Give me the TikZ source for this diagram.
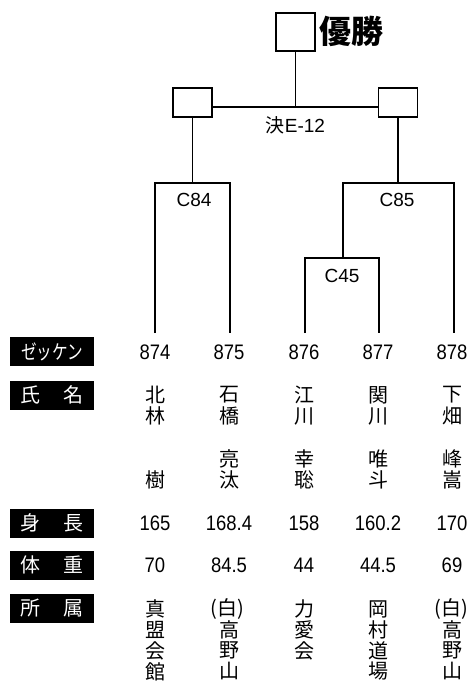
\documentclass[tikz,border=0pt]{standalone}
\usepackage{fontspec}
\setmainfont{Liberation Sans}
\newfontfamily\cjk{Noto Sans CJK JP}
\newfontfamily\cjkcond[FakeStretch=0.78]{Noto Sans CJK JP}
\newfontfamily\numcond[FakeStretch=0.88]{Liberation Sans}
\begin{document}
\begin{tikzpicture}[x=1pt,y=-1pt,line width=1.4pt,
  box/.style={draw,inner sep=0,minimum width=39pt},
  lab/.style={fill=black,text=white,minimum width=84pt,minimum height=29pt,inner sep=0,
    font=\cjk\fontsize{20}{20}\selectfont},
  cj/.style={font=\cjk\fontsize{20}{20}\selectfont,inner sep=0},
  num/.style={font=\numcond\fontsize{21}{21}\selectfont,inner sep=0},
  cl/.style={font=\fontsize{19}{19}\selectfont,inner sep=0}]
\useasboundingbox (0,0) rectangle (472,681);
% bracket boxes
\node[box,minimum height=38pt] (win) at (295.5,32) {};
\node[anchor=west,inner sep=0,font=\cjk\bfseries\fontsize{32}{32}\selectfont] (wint) at (319,31) {優勝};
\node[box,minimum height=29pt] (sL) at (192.5,102.5) {};
\node[box,minimum height=29pt] (sR) at (398,102.5) {};
\coordinate (j) at (295.5,107);
\draw (win.south) -- (j);
\draw (sL.east |- j) -- (sR.west |- j);
\node[cl] (fin) at (295.5,125) {{\cjk 決}E-12};
% legs
\coordinate (t1) at (155,333);
\coordinate (t2) at (230,333);
\coordinate (t3) at (305,333);
\coordinate (t4) at (379,333);
\coordinate (t5) at (454,333);
\coordinate (m84) at (192.5,183);
\coordinate (m85) at (398,183);
\coordinate (m45) at (343,258);
\draw (sL.south) -- (m84);
\draw (sR.south) -- (m85);
\draw (t1) |- (m84) -| (t2);
\draw (m45) |- (m85) -| (t5);
\draw (t3) |- (m45) -| (t4);
\node[cl] (c84) at (194,200) {C84};
\node[cl] (c85) at (397,200) {C85};
\node[cl] (c45) at (342,276) {C45};
% row labels
\node[lab] (l1) at (52,351.5) {\cjkcond ゼッケン};
\node[lab] (l2) at (52,395) {氏\hspace{1.2em}名};
\node[lab] (l3) at (52,523) {身\hspace{1.2em}長};
\node[lab] (l4) at (52,565) {体\hspace{1.2em}重};
\node[lab] (l5) at (52,608) {所\hspace{1.2em}属};
% numbers
\node[num] (n1) at (155,352.5) {874};
\node[num] (n2) at (229,352.5) {875};
\node[num] (n3) at (304,352.5) {876};
\node[num] (n4) at (378,352.5) {877};
\node[num] (n5) at (452,352.5) {878};
% names
\node[cj] (f1a) at (155,395) {北};
\node[cj] (f1b) at (155,416) {林};
\node[cj] (g1b) at (155,480) {樹};
\node[cj] (f2a) at (229,395) {石};
\node[cj] (f2b) at (229,416) {橋};
\node[cj] (g2a) at (229,459) {亮};
\node[cj] (g2b) at (229,480) {汰};
\node[cj] (f3a) at (304,395) {江};
\node[cj] (f3b) at (304,416) {川};
\node[cj] (g3a) at (304,459) {幸};
\node[cj] (g3b) at (304,480) {聡};
\node[cj] (f4a) at (378,395) {関};
\node[cj] (f4b) at (378,416) {川};
\node[cj] (g4a) at (378,459) {唯};
\node[cj] (g4b) at (378,480) {斗};
\node[cj] (f5a) at (452,395) {下};
\node[cj] (f5b) at (452,416) {畑};
\node[cj] (g5a) at (452,459) {峰};
\node[cj] (g5b) at (452,480) {嵩};
% height / weight
\node[num] (h1) at (155,523) {165};
\node[num] (h2) at (229,523) {168.4};
\node[num] (h3) at (304,523) {158};
\node[num] (h4) at (378,523) {160.2};
\node[num] (h5) at (452,523) {170};
\node[num] (w1) at (155,565) {70};
\node[num] (w2) at (229,565) {84.5};
\node[num] (w3) at (304,565) {44};
\node[num] (w4) at (378,565) {44.5};
\node[num] (w5) at (452,565) {69};
% affiliations
\foreach \c [count=\i] in {真,盟,会,館}
  \node[cj] (a1\i) at (155,{609+20.8*(\i-1)}) {\c};
\node[cj] (a21) at (227,609) {(白)};
\foreach \c [count=\i from 2] in {高,野,山}
  \node[cj] (a2\i) at (229,{609+20.8*(\i-1)}) {\c};
\foreach \c [count=\i] in {力,愛,会}
  \node[cj] (a3\i) at (304,{609+20.8*(\i-1)}) {\c};
\foreach \c [count=\i] in {岡,村,道,場}
  \node[cj] (a4\i) at (378,{609+20.8*(\i-1)}) {\c};
\node[cj] (a51) at (451,609) {(白)};
\foreach \c [count=\i from 2] in {高,野,山}
  \node[cj] (a5\i) at (452,{609+20.8*(\i-1)}) {\c};
\end{tikzpicture}
\end{document}
